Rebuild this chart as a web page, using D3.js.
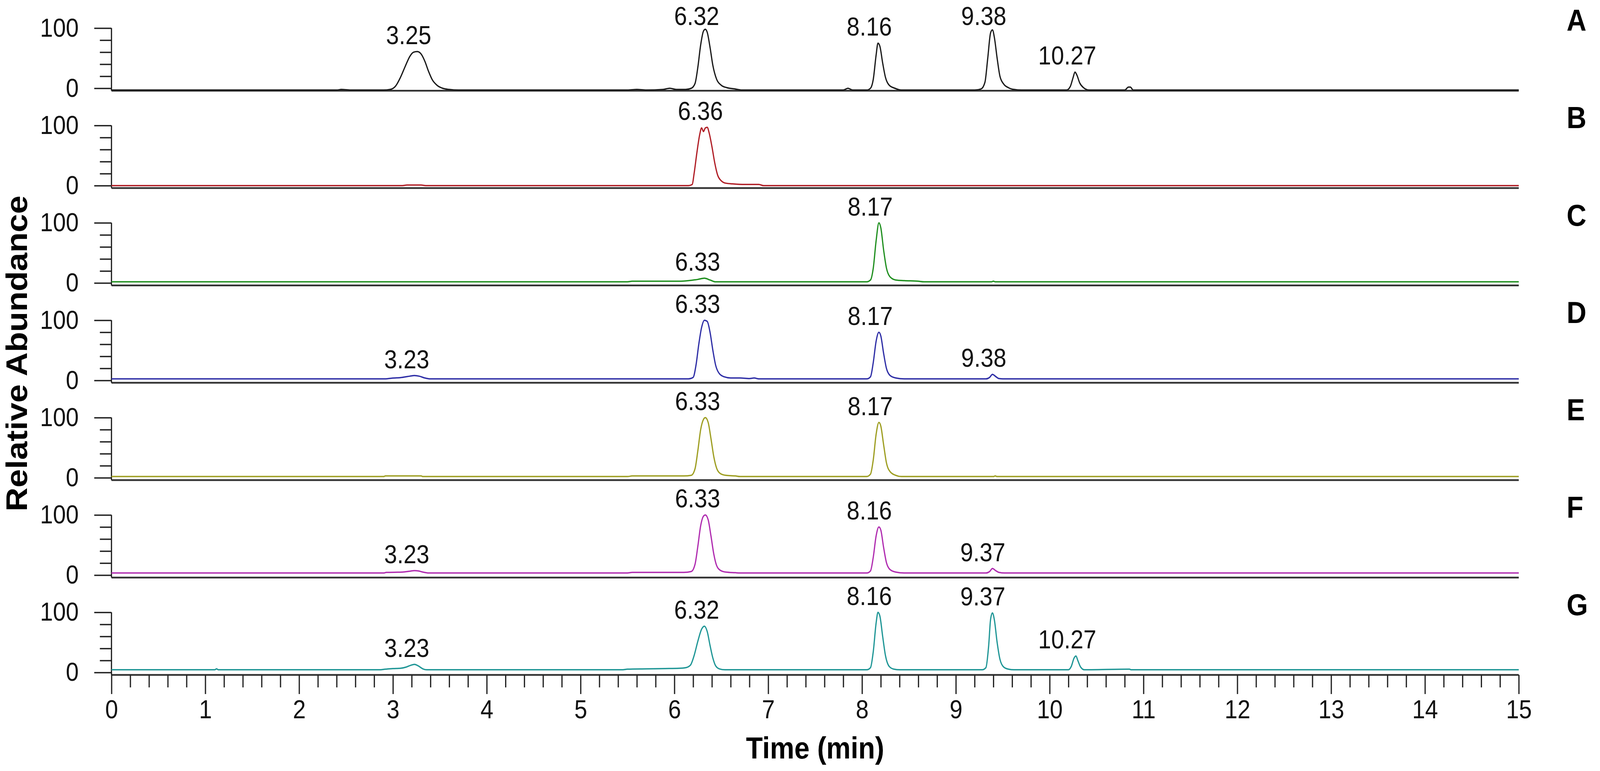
<!DOCTYPE html>
<html>
<head>
<meta charset="utf-8">
<script src="https://cdn.jsdelivr.net/npm/d3@7"></script>
<style>
  html, body { margin: 0; padding: 0; background: #fff; width: 100%; height: 100%; overflow: hidden; }
  #chart { width: 100%; height: 100%; }
  svg { display: block; font-family: "Liberation Sans", Arial, sans-serif; }
</style>
</head>
<body>
<div id="chart"></div>
<script>
// panel names and trace colours
var panels = ["A", "B", "C", "D", "E", "F", "G"];
var colors = ["#1a1a1a", "#b01e26", "#1f8f1f", "#2e2ea6", "#9e9e22", "#b02cb0", "#1f9696"];

// traces: [time (min), relative abundance]
var traceA = [[0,-3],[2.40,-3],[2.45,-2],[2.55,-3],[2.90,-3],[2.97,-2],[3.03,4],[3.08,18],[3.13,36],[3.18,53],
  [3.22,60],[3.26,61],[3.30,57],[3.34,45],[3.38,28],[3.42,14],[3.47,5],[3.53,0],[3.60,-2],[3.70,-3],
  [5.50,-3],[5.60,-2],[5.70,-3],[5.88,-2],[5.95,0],[6.02,-2],[6.12,-2],[6.18,0],[6.22,8],[6.25,35],
  [6.28,72],[6.31,95],[6.33,98],[6.35,93],[6.38,68],[6.41,38],[6.45,15],[6.50,5],[6.56,1],[6.64,-1],
  [6.72,-3],[7.80,-3],[7.85,0],[7.90,-3],[8.05,-3],[8.09,0],[8.12,15],[8.15,55],[8.17,75],[8.19,70],
  [8.22,42],[8.25,18],[8.29,5],[8.35,0],[8.42,-3],[9.20,-3],[9.27,-1],[9.31,10],[9.34,50],[9.37,92],
  [9.39,97],[9.41,85],[9.44,50],[9.47,20],[9.51,7],[9.56,1],[9.62,-2],[9.70,-3],[10.18,-3],[10.22,3],
  [10.25,18],[10.27,27],[10.29,22],[10.32,9],[10.36,1],[10.42,-3],[10.80,-3],[10.84,2],[10.86,2],
  [10.89,-3],[15,-3]];
var traceB = [[0,0],[3.10,0],[3.15,1],[3.30,1],[3.35,0],[6.15,0],[6.19,2],[6.21,20],[6.24,55],[6.27,85],
  [6.29,96],[6.31,90],[6.33,96],[6.35,97],[6.37,88],[6.40,65],[6.43,38],[6.46,18],[6.50,8],[6.55,4],
  [6.62,3],[6.75,2],[6.90,2],[6.95,0],[15,0]];
var traceC = [[0,2],[5.50,2],[5.55,3],[5.80,3],[6.05,3],[6.15,4],[6.25,6],[6.32,8],[6.38,5],[6.44,2],
  [8.05,2],[8.09,5],[8.12,25],[8.15,70],[8.18,100],[8.20,92],[8.23,55],[8.26,25],[8.30,10],[8.36,5],
  [8.45,4],[8.60,3],[8.66,2],[9.38,2],[9.40,3],[9.42,2],[15,2]];
var traceD = [[0,2.5],[2.90,2.5],[2.98,3.5],[3.10,5],[3.18,7],[3.23,8],[3.28,7],[3.34,4],[3.40,2.5],
  [6.15,2.5],[6.20,5],[6.23,25],[6.26,60],[6.29,88],[6.32,100],[6.35,98],[6.38,80],[6.41,50],[6.44,25],
  [6.48,11],[6.53,6],[6.60,4],[6.70,4],[6.80,3],[6.85,4],[6.90,2.5],[8.05,2.5],[8.09,6],[8.12,30],
  [8.15,65],[8.18,80],[8.20,74],[8.23,45],[8.26,20],[8.30,8],[8.36,4],[8.45,2.5],[9.32,2.5],[9.36,5],
  [9.39,10],[9.42,7],[9.46,3],[9.50,2.5],[15,2.5]];
var traceE = [[0,2],[2.90,2],[2.92,3],[3.30,3],[3.32,2],[5.50,2],[5.55,3],[6.10,3],[6.18,4],[6.22,15],
  [6.25,45],[6.28,80],[6.31,97],[6.33,100],[6.36,92],[6.39,65],[6.42,35],[6.45,16],[6.49,7],[6.55,4],
  [6.65,3],[6.70,2],[8.05,2],[8.09,6],[8.12,30],[8.15,72],[8.18,92],[8.20,86],[8.23,55],[8.26,25],
  [8.30,10],[8.36,4],[8.42,2],[9.40,2],[9.42,3],[9.44,2],[15,2]];
var traceF = [[0,3.5],[2.90,3.5],[2.93,4.5],[3.10,5],[3.18,6.5],[3.23,7.5],[3.27,7],[3.32,5],[3.38,3.5],
  [5.50,3.5],[5.55,4.5],[6.10,4.5],[6.18,6],[6.22,18],[6.25,48],[6.28,82],[6.31,98],[6.33,100],[6.36,92],
  [6.39,65],[6.42,35],[6.45,16],[6.49,8],[6.55,5],[6.65,4],[6.70,3.5],[8.05,3.5],[8.09,7],[8.12,30],
  [8.15,65],[8.18,80],[8.20,75],[8.23,46],[8.26,21],[8.30,9],[8.36,5],[8.45,3.5],[9.32,3.5],[9.36,6],
  [9.39,11],[9.42,8],[9.46,4.5],[9.52,3.5],[15,3.5]];
var traceG = [[0,4.5],[1.10,4.5],[1.12,6],[1.14,4.5],[2.85,4.5],[2.92,5.5],[3.00,6.5],[3.08,7],[3.14,9],
  [3.19,12],[3.23,13.5],[3.27,11],[3.32,6],[3.36,4.5],[5.45,4.5],[5.50,5.5],[5.70,6],[5.90,6.5],[6.05,7],
  [6.12,8],[6.17,12],[6.21,28],[6.25,52],[6.29,72],[6.32,77],[6.35,68],[6.38,45],[6.41,24],[6.44,11],
  [6.48,6],[6.54,4.5],[8.05,4.5],[8.09,8],[8.12,35],[8.15,82],[8.17,100],[8.19,94],[8.22,60],[8.25,28],
  [8.29,10],[8.34,5.5],[8.40,4.5],[9.28,4.5],[9.32,8],[9.35,45],[9.37,88],[9.39,99],[9.41,88],[9.44,50],
  [9.47,22],[9.51,9],[9.56,5.5],[9.62,4.5],[10.20,4.5],[10.23,10],[10.26,24],[10.28,27.5],[10.30,20],
  [10.33,9],[10.37,4.5],[10.85,5.5],[10.87,4.5],[15,4.5]];
var traces = [traceA, traceB, traceC, traceD, traceE, traceF, traceG];

// retention time labels per panel
var labelsA = ["3.25", "6.32", "8.16", "9.38", "10.27"];
var labelsB = ["6.36"];
var labelsC = ["6.33", "8.17"];
var labelsD = ["3.23", "6.33", "8.17", "9.38"];
var labelsE = ["6.33", "8.17"];
var labelsF = ["3.23", "6.33", "8.16", "9.37"];
var labelsG = ["3.23", "6.32", "8.16", "9.37", "10.27"];
var peakLabels = [labelsA, labelsB, labelsC, labelsD, labelsE, labelsF, labelsG];

// axis ticks
var xTicks = [0, 1, 2, 3, 4, 5, 6, 7, 8, 9, 10, 11, 12, 13, 14, 15];
var yTicks = [0, 100];
var yMinorTicks = [20, 40, 60, 80];

var W = 4550, H = 1974;
var plotH = 154;
var font = "'Liberation Sans', Arial, sans-serif";

// drawn in a fixed 4550x1974 coordinate space, stretched to fill the window
var svg = d3.select("#chart")
  .append("svg")
    .attr("width", "100%")
    .attr("height", "100%")
    .attr("viewBox", "0 0 " + W + " " + H)
    .attr("preserveAspectRatio", "none");

var x = d3.scaleLinear().domain([0, 15]).range([317, 4319]);
var band = d3.scaleBand().domain(panels).range([72, 72 + 7 * 249.3]);

// minor x ticks every 0.2 min
var xMinorTicks = d3.range(0, 75).map(function(k) { return k / 5; })
  .filter(function(v) { return v % 1 !== 0; });

panels.forEach(function(p, i) {
  var top = band(p);
  var y = d3.scaleLinear().domain([0, 100]).range([top + plotH, top]);
  var axisY = y(-4);
  var g = svg.append("g");

  // x axis line of the panel
  g.append("line")
    .attr("x1", x(0)).attr("x2", x(15))
    .attr("y1", axisY).attr("y2", axisY)
    .attr("stroke", "#333").attr("stroke-width", 4.5);

  // y axis
  g.append("line")
    .attr("x1", x(0)).attr("x2", x(0))
    .attr("y1", y(100)).attr("y2", axisY)
    .attr("stroke", "#222").attr("stroke-width", 3.5);

  var yAxis = g.append("g")
    .attr("transform", "translate(" + x(0) + ",0)")
    .call(d3.axisLeft(y).tickValues(yTicks).tickSize(49).tickPadding(44));
  var yMinor = g.append("g")
    .attr("transform", "translate(" + x(0) + ",0)")
    .call(d3.axisLeft(y).tickValues(yMinorTicks).tickSize(33).tickFormat(""));
  [yAxis, yMinor].forEach(function(a) {
    a.select(".domain").remove();
    a.selectAll(".tick line").attr("stroke", "#222").attr("stroke-width", 3.5);
    a.selectAll("text").attr("font-size", 66).attr("font-family", font).attr("fill", "#111");
  });

  // x ticks only under the last panel
  if (i === panels.length - 1) {
    var xAxis = g.append("g")
      .attr("transform", "translate(0," + axisY + ")")
      .call(d3.axisBottom(x).tickValues(xTicks).tickSize(49).tickPadding(15));
    var xMinor = g.append("g")
      .attr("transform", "translate(0," + axisY + ")")
      .call(d3.axisBottom(x).tickValues(xMinorTicks).tickSize(32).tickFormat(""));
    [xAxis, xMinor].forEach(function(a) {
      a.select(".domain").remove();
      a.selectAll(".tick line").attr("stroke", "#222").attr("stroke-width", 3.5);
      a.selectAll("text").attr("font-size", 66).attr("font-family", font).attr("fill", "#111");
    });
  }

  // chromatogram trace
  g.append("path")
    .datum(traces[i])
    .attr("fill", "none")
    .attr("stroke", colors[i])
    .attr("stroke-width", 3.5)
    .attr("stroke-linejoin", "round")
    .attr("d", d3.line()
      .x(function(d) { return x(d[0]); })
      .y(function(d) { return y(d[1]); })
      .curve(d3.curveMonotoneX));

  // peak labels above each apex, kept inside the top edge
  g.selectAll(".peak")
    .data(peakLabels[i])
    .enter().append("text")
      .attr("class", "peak")
      .attr("x", function(d) { return x(+d) - 22; })
      .attr("y", function(d) {
        var apex = d3.max(traces[i], function(pt) { return Math.abs(pt[0] - d) < 0.08 ? pt[1] : -10; });
        return Math.max(y(apex) - 19, 64);
      })
      .attr("text-anchor", "middle")
      .attr("font-size", 66)
      .attr("font-family", font)
      .attr("fill", "#111")
      .text(function(d) { return d; });

  // panel letter
  g.append("text")
    .attr("x", 4455)
    .attr("y", y(0) - 175)
    .attr("dy", "0.36em")
    .attr("font-size", 78)
    .attr("font-weight", "bold")
    .attr("font-family", font)
    .attr("fill", "#000")
    .text(p);
});

// axis titles
svg.append("text")
  .attr("transform", "translate(77,905) rotate(-90)")
  .attr("text-anchor", "middle")
  .attr("font-size", 85)
  .attr("font-weight", "bold")
  .attr("font-family", font)
  .text("Relative Abundance");

svg.append("text")
  .attr("x", (x(0) + x(15)) / 2)
  .attr("y", 1942)
  .attr("text-anchor", "middle")
  .attr("font-size", 78)
  .attr("font-weight", "bold")
  .attr("font-family", font)
  .text("Time (min)");
</script>
</body>
</html>
